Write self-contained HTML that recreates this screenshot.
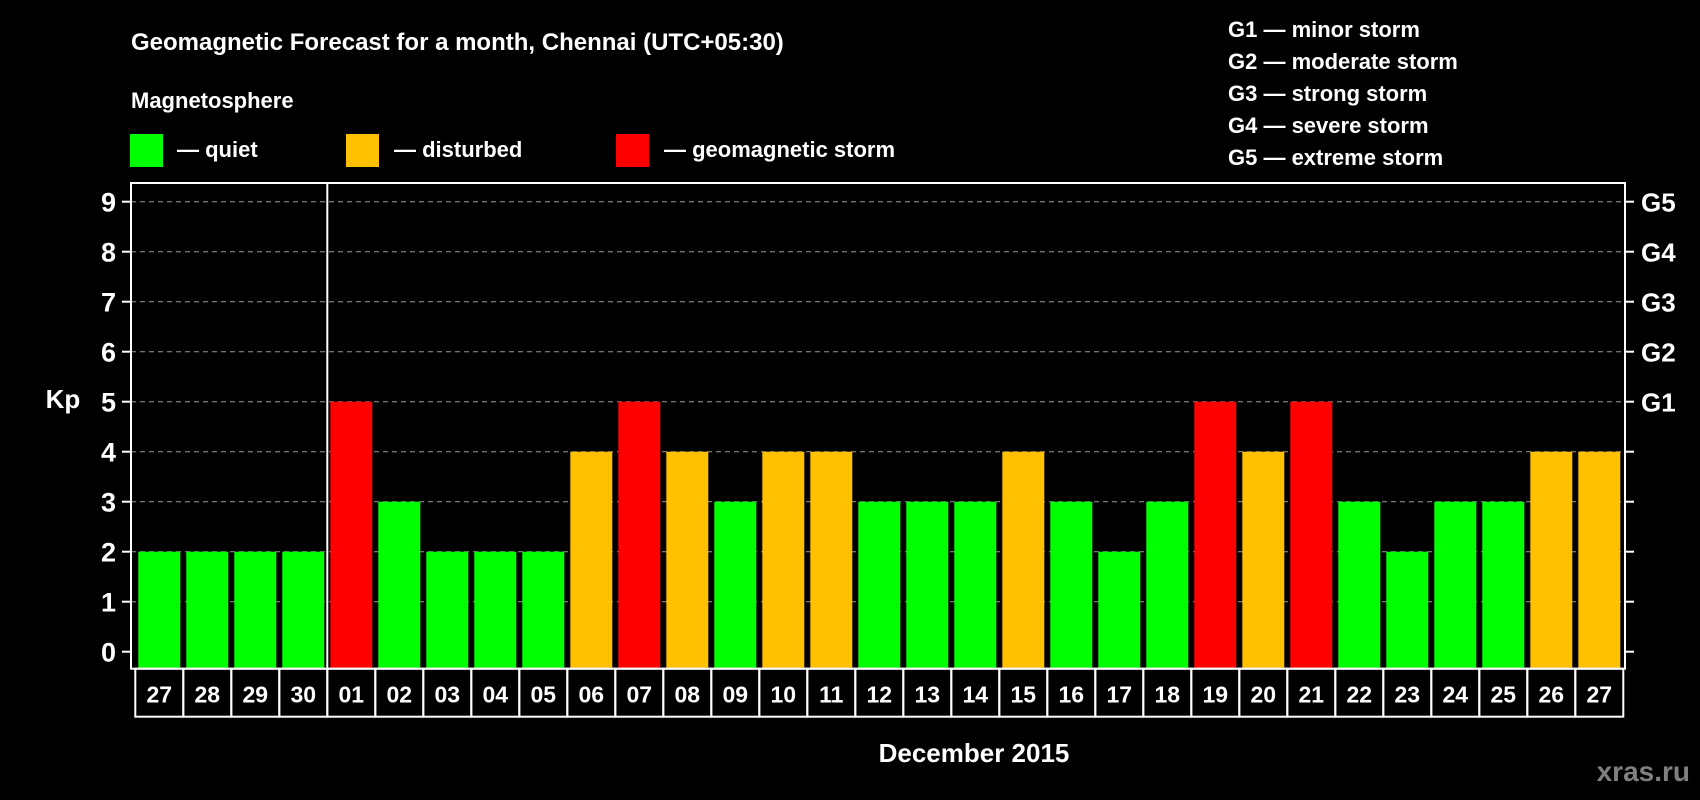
<!DOCTYPE html>
<html><head><meta charset="utf-8"><style>
html,body{margin:0;padding:0;background:#000;}
svg{display:block;font-family:"Liberation Sans",Arial,sans-serif;font-weight:bold;}
</style></head><body>
<svg id="chart" width="1700" height="800" viewBox="0 0 1700 800">
<rect x="0" y="0" width="1700" height="800" fill="#000"/>
<text x="131" y="50" fill="#fff" font-size="24">Geomagnetic Forecast for a month, Chennai (UTC+05:30)</text>
<text x="131" y="108" fill="#fff" font-size="22">Magnetosphere</text>
<g>
<rect x="130" y="134" width="33" height="33" fill="#00ff00"/>
<text x="177" y="157" fill="#fff" font-size="22">— quiet</text></g>
<g>
<rect x="346" y="134" width="33" height="33" fill="#ffc000"/>
<text x="394" y="157" fill="#fff" font-size="22">— disturbed</text></g>
<g>
<rect x="616" y="134" width="33" height="33" fill="#ff0000"/>
<text x="664" y="157" fill="#fff" font-size="22">— geomagnetic storm</text></g>
<g font-size="22" fill="#fff">
<text x="1228" y="37">G1 — minor storm</text>
<text x="1228" y="69">G2 — moderate storm</text>
<text x="1228" y="101">G3 — strong storm</text>
<text x="1228" y="133">G4 — severe storm</text>
<text x="1228" y="165">G5 — extreme storm</text>
</g>
<g id="grid"></g>
<g id="bars"></g>
<g id="axes"></g>
<text x="63" y="408" fill="#fff" font-size="26" text-anchor="middle">Kp</text>
<text x="974" y="762" fill="#fff" font-size="26" text-anchor="middle">December 2015</text>
<text x="1690" y="781" fill="#808080" font-size="28" text-anchor="end">xras.ru</text>
</svg>
<script>
const days = ["27","28","29","30","01","02","03","04","05","06","07","08","09","10","11","12","13","14","15","16","17","18","19","20","21","22","23","24","25","26","27"];
const kpValues = [2,2,2,2,5,3,2,2,2,4,5,4,3,4,4,3,3,3,4,3,2,3,5,4,5,3,2,3,3,4,4];
const yTicks = [0,1,2,3,4,5,6,7,8,9];
const gLabels = ["","","","","","G1","G2","G3","G4","G5"];
const prevMonthCount = 4;

const NS = "http://www.w3.org/2000/svg";
const plotL = 131, plotR = 1625, plotT = 183, plotB = 668.7;
const y0 = 651.7, unit = 50;
const firstX = 138.3, pitch = 48, barW = 42;
function yScale(v){ return y0 - v*unit; }
function xScale(i){ return firstX + i*pitch; }
function colorFor(v){ return v >= 5 ? "#ff0000" : (v >= 4 ? "#ffc000" : "#00ff00"); }
function mk(tag, attrs, parent){
  const e = document.createElementNS(NS, tag);
  for (const k in attrs) e.setAttribute(k, attrs[k]);
  parent.appendChild(e); return e;
}
const grid = document.getElementById("grid");
const bars = document.getElementById("bars");
const axes = document.getElementById("axes");

yTicks.forEach((t, i) => {
  const y = yScale(t);
  if (t > 0) {
    const gl = mk("line", {x1: plotL, x2: plotR, y1: y, y2: y, stroke: "#999", "stroke-width": 1, "stroke-dasharray": "5,4"}, grid);
    
    
  }
  const lt = mk("line", {x1: 122, x2: plotL, y1: y, y2: y, stroke: "#fff", "stroke-width": 2}, axes);
  
  
  const rt = mk("line", {x1: plotR, x2: plotR + 9, y1: y, y2: y, stroke: "#fff", "stroke-width": 2}, axes);
  
  
  const lbl = mk("text", {x: 116, y: y + 10, fill: "#fff", "font-size": 27, "text-anchor": "end"}, axes);
  lbl.textContent = String(t);
  
  
  if (gLabels[i]) {
    const g = mk("text", {x: 1641, y: y + 10, fill: "#fff", "font-size": 26}, axes);
    g.textContent = gLabels[i];
    
    
  }
});

kpValues.forEach((v, i) => {
  const x = xScale(i);
  const r = mk("rect", {x: x, y: yScale(v), width: barW, height: plotB - 1 - yScale(v), fill: colorFor(v)}, bars);
  
  
  // day label box
  const bx = x - 3;
  const box = mk("rect", {x: bx, y: plotB, width: pitch, height: 48, fill: "none", stroke: "#fff", "stroke-width": 2}, axes);
  
  
  const dt = mk("text", {x: x + barW/2, y: plotB + 34, fill: "#fff", "font-size": 23, "text-anchor": "middle"}, axes);
  dt.textContent = days[i];
  
  
});

const frame = mk("rect", {x: plotL, y: plotT, width: plotR - plotL, height: plotB - plotT, fill: "none", stroke: "#fff", "stroke-width": 2}, axes);


const divX = xScale(prevMonthCount) - 3;
const div = mk("line", {x1: divX, x2: divX, y1: plotT, y2: plotB, stroke: "#fff", "stroke-width": 2}, axes);


</script>
</body></html>
